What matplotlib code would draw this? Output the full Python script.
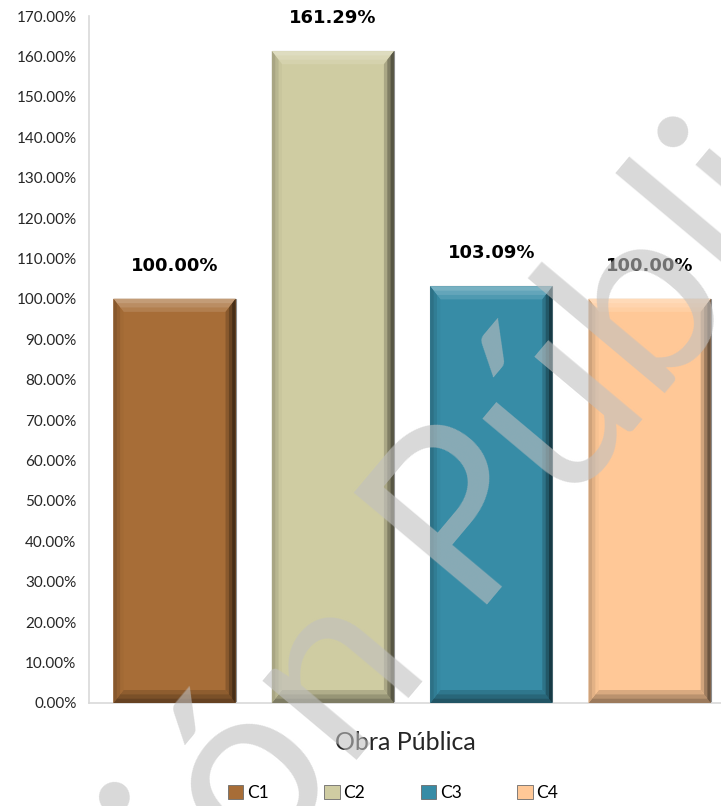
import numpy as np
import matplotlib
matplotlib.use("Agg")
import matplotlib.pyplot as plt
from matplotlib.patches import Patch, Polygon
from matplotlib import colors as mcolors

# data
categorias = ["C1", "C2", "C3", "C4"]
valores = [100.00, 161.29, 103.09, 100.00]
couleurs = ["#A76D37", "#CFCCA2", "#378CA6", "#FFC897"]
ticks_y = np.arange(0, 171, 10)

def melange(c, autre, t):
    c = np.array(mcolors.to_rgb(c))
    autre = np.array(mcolors.to_rgb(autre))
    return tuple(c * (1 - t) + autre * t)

fig = plt.figure(figsize=(7.21, 8.06), dpi=100)
ax = fig.add_axes([89 / 721, 103 / 806, 632 / 721, 687 / 806])

x = np.arange(len(categorias))
largeur = 0.77
barres = ax.bar(x, valores, width=largeur, color=couleurs, edgecolor="#8c8c8c", linewidth=0.8, zorder=2)

ax.set_xlim(-0.54, 3.45)
ax.set_ylim(0, 170)

# bevel effect, sizes in pixels converted to data units
px_x = (3.45 + 0.54) / 632
px_y = 170 / 687
for xi, h, c in zip(x, valores, couleurs):
    x0 = xi - largeur / 2
    x1 = xi + largeur / 2
    # a few stacked bands to fake a gradient on the bevel
    for k, t in enumerate([1.0, 0.66, 0.33]):
        dx = 10 * px_x * t
        dy = 13 * px_y * t
        haut = [(x0, h), (x1, h), (x1 - dx, h - dy), (x0 + dx, h - dy)]
        bas = [(x0, 0), (x1, 0), (x1 - dx, dy), (x0 + dx, dy)]
        gauche = [(x0, 0), (x0, h), (x0 + dx, h - dy), (x0 + dx, dy)]
        droite = [(x1, 0), (x1, h), (x1 - dx, h - dy), (x1 - dx, dy)]
        ax.add_patch(Polygon(haut, closed=True, color=melange(c, "white", 0.12 + 0.1 * k), lw=0, zorder=3))
        ax.add_patch(Polygon(bas, closed=True, color=melange(c, "black", 0.15 + 0.12 * k), lw=0, zorder=3))
        ax.add_patch(Polygon(gauche, closed=True, color=melange(c, "black", 0.03 + 0.08 * k), lw=0, zorder=3))
        ax.add_patch(Polygon(droite, closed=True, color=melange(c, "black", 0.18 + 0.2 * k), lw=0, zorder=3))
    ax.annotate(f"{h:.2f}%", (xi, h), xytext=(0, 24), textcoords="offset points",
                ha="center", va="center", fontsize=13, fontweight="bold",
                family="DejaVu Sans", color="black", zorder=5)

ax.set_yticks(ticks_y)
ax.set_yticklabels([f"{v:.2f}%" for v in ticks_y], fontsize=11, family="Lato", color="#262626")
ax.set_xticks([])
ax.tick_params(axis="y", length=0, pad=9)
for s in ["top", "right"]:
    ax.spines[s].set_visible(False)
ax.spines["left"].set_color("#d9d9d9")
ax.spines["bottom"].set_color("#d9d9d9")
ax.spines["left"].set_linewidth(1.2)
ax.spines["bottom"].set_linewidth(1.2)

ax.set_xlabel("Obra Pública", fontsize=18, family="Lato", color="#262626", labelpad=20)

poignees = [Patch(facecolor=c, edgecolor="#6b6b6b", linewidth=0.6) for c in couleurs]
fig.legend(poignees, categorias, loc="center", bbox_to_anchor=(393 / 721, 1 - 793 / 806),
           ncol=4, frameon=False, handlelength=0.9, handleheight=0.9,
           handletextpad=0.2, columnspacing=3.2, prop={"family": "Lato", "size": 12.5})

# watermark
fig.text(385 / 721, 1 - 620 / 806, "Versión Pública", fontsize=175, family="Lato",
         rotation=50, ha="center", va="center", color="#c0c0c0",
         alpha=0.6, zorder=10, rotation_mode="anchor")

fig.savefig("out.png", dpi=100)
